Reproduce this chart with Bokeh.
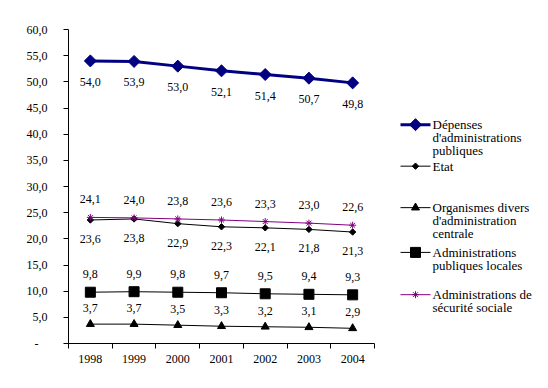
import math
from bokeh.plotting import figure
from bokeh.models import Range1d, FixedTicker, ColumnDataSource
from bokeh.layouts import row
from bokeh.core.properties import value
from bokeh.embed import file_html
from bokeh.resources import INLINE

years = ["1998", "1999", "2000", "2001", "2002", "2003", "2004"]
depenses = [54.0, 53.9, 53.0, 52.1, 51.4, 50.7, 49.8]
etat = [23.6, 23.8, 22.9, 22.3, 22.1, 21.8, 21.3]
organismes = [3.7, 3.7, 3.5, 3.3, 3.2, 3.1, 2.9]
locales = [9.8, 9.9, 9.8, 9.7, 9.5, 9.4, 9.3]
securite = [24.1, 24.0, 23.8, 23.6, 23.3, 23.0, 22.6]
y_ticks = [0, 5, 10, 15, 20, 25, 30, 35, 40, 45, 50, 55, 60]

legend_names = [
    ["Dépenses", "d'administrations", "publiques"],
    ["Etat"],
    ["Organismes divers", "d'administration", "centrale"],
    ["Administrations", "publiques locales"],
    ["Administrations de", "sécurité sociale"],
]

FONT = "Liberation Serif"
NAVY = "#000080"
PURPLE = "#800080"

def fmt(v):
    return f"{v:.1f}".replace(".", ",")

xs = list(range(len(years)))

p = figure(width=384, height=386, output_backend="svg", toolbar_location=None,
           x_range=Range1d(-0.5, len(years) - 0.5), y_range=Range1d(0, 60),
           min_border_left=68, min_border_right=10, min_border_top=29, min_border_bottom=43)
p.outline_line_color = None
p.xgrid.visible = False
p.ygrid.visible = False
p.background_fill_color = "white"
p.border_fill_color = "white"

p.xaxis.ticker = FixedTicker(ticks=xs, minor_ticks=[i - 0.5 for i in range(len(years) + 1)])
p.xaxis.major_label_overrides = {i: y for i, y in enumerate(years)}
p.xaxis.major_tick_line_color = None
p.xaxis.major_tick_out = 0
p.xaxis.major_tick_in = 0
p.xaxis.minor_tick_line_color = "black"
p.xaxis.minor_tick_out = 5
p.xaxis.minor_tick_in = 0
p.xaxis.major_label_standoff = 6
p.yaxis.ticker = FixedTicker(ticks=y_ticks, minor_ticks=[])
p.yaxis.major_label_overrides = {t: (fmt(t) if t != 0 else "-\u00a0\u00a0\u00a0") for t in y_ticks}
p.yaxis.major_tick_out = 5
p.yaxis.major_tick_in = 0
p.yaxis.minor_tick_line_color = None
p.yaxis.major_label_standoff = 16
for ax in (p.xaxis, p.yaxis):
    ax.axis_line_color = "black"
    ax.major_label_text_font = FONT
    ax.major_label_text_font_size = "12px"
    ax.major_label_text_color = "black"

def series(vals, color, lw, marker, size, angle, fill, label_off):
    src = ColumnDataSource(dict(x=xs, y=vals, t=[fmt(v) for v in vals]))
    p.line("x", "y", source=src, line_color=color, line_width=lw)
    p.scatter("x", "y", source=src, marker=marker, size=size, angle=angle,
              fill_color=fill, line_color=color)
    p.text("x", "y", text="t", source=src, text_align="center", text_baseline="middle",
           y_offset=label_off, text_font=value(FONT), text_font_size="12px", text_color="black")

series(depenses, NAVY, 3, "square", 8.5, math.pi / 4, NAVY, 21)
series(etat, "black", 1, "square", 4.5, math.pi / 4, "black", 19)
series(organismes, "black", 1, "triangle", 8, 0, "black", -16)
series(locales, "black", 1, "square", 10, 0, "black", -18)
series(securite, PURPLE, 1, "asterisk", 7, 0, PURPLE, -18)

lg = figure(width=160, height=386, output_backend="svg", toolbar_location=None,
            x_range=Range1d(0, 160), y_range=Range1d(386, 0),
            min_border_left=0, min_border_right=0, min_border_top=0, min_border_bottom=0)
lg.axis.visible = False
lg.xgrid.visible = False
lg.ygrid.visible = False
lg.outline_line_color = None

styles = [
    (NAVY, 3, "square", 8.5, math.pi / 4, NAVY),
    ("black", 1, "square", 4.5, math.pi / 4, "black"),
    ("black", 1, "triangle", 8, 0, "black"),
    ("black", 1, "square", 10, 0, "black"),
    (PURPLE, 1, "asterisk", 7, 0, PURPLE),
]
entry_y = [117, 168, 219, 274, 326]
for names, st, y0 in zip(legend_names, styles, entry_y):
    color, lw, marker, size, angle, fill = st
    lg.line([16, 46], [y0, y0], line_color=color, line_width=lw)
    lg.scatter([31], [y0], marker=marker, size=size, angle=angle, fill_color=fill, line_color=color)
    lg.text([48] * len(names), [y0 + 16 * i for i in range(len(names))], text=names,
            text_align="left", text_baseline="middle", text_font=value(FONT),
            text_font_size="13px", text_color="black")

layout = row(p, lg, spacing=0)
open("out.html", "w").write(file_html(layout, INLINE))
